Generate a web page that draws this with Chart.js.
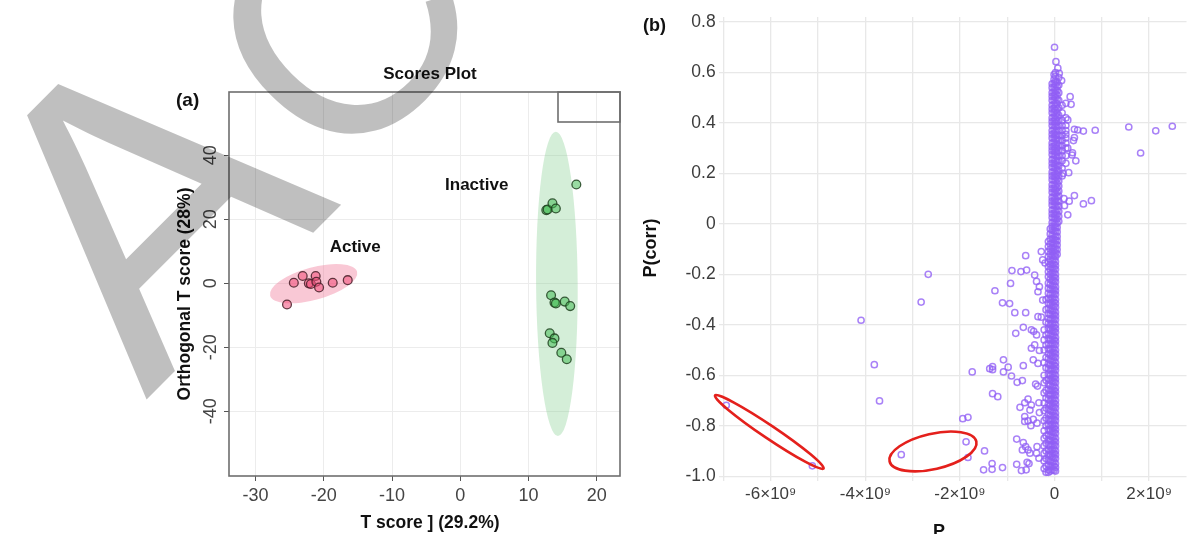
<!DOCTYPE html>
<html>
<head>
<meta charset="utf-8">
<script src="https://cdn.jsdelivr.net/npm/chart.js@4.4.1/dist/chart.umd.min.js"></script>
<style>
  html, body { margin: 0; padding: 0; background: #fff; }
  #wrap { position: relative; width: 1192px; height: 534px; overflow: hidden; }
  #scores { position: absolute; left: 0; top: 0; }
  #splot { position: absolute; left: 640px; top: 0; }
  #mark { position: absolute; left: 0; top: 0; pointer-events: none; }
</style>
</head>
<body>
<div id="wrap">
  <canvas id="scores" width="640" height="534"></canvas>
  <canvas id="splot" width="552" height="534"></canvas>
  <canvas id="mark" width="1192" height="534"></canvas>
</div>
<script>
// ---- (a) scores plot ----
const activeT = [-25.4, -24.4, -23.1, -22.2, -21.9, -21.2, -21.1, -20.7, -18.7, -16.5];
const activeO = [-6.6, 0.2, 2.3, 0.0, -0.2, 2.3, 0.5, -1.3, 0.2, 1.0];
const inactiveT = [17.0, 12.6, 12.8, 13.5, 14.0, 13.3, 13.8, 14.0, 15.3, 16.1, 13.1, 13.8, 13.5, 14.8, 15.6];
const inactiveO = [30.9, 22.9, 23.1, 25.0, 23.4, -3.7, -6.0, -6.3, -5.7, -7.1, -15.6, -17.2, -18.6, -21.7, -23.7];
const xTicksA = [-30, -20, -10, 0, 10, 20];
const yTicksA = [-40, -20, 0, 20, 40];
const groupNames = ['Active', 'Inactive'];
const groupLabelT = [-15.4, 2.4];
const groupLabelO = [11.3, 30.7];
const ellipseCenterT = [-21.5, 14.15];
const ellipseCenterO = [-0.1, -0.15];

// ---- (b) S-plot, P in units of 1e9 ----
const spineP = [0.02, -0.05, -0.13, -0.22, 0.09, 0.16, 0.24, -0.01, -0.09, 0.055, -0.18];
const spineCorr = [
  [0.60, 0.585, 0.565, 0.55, 0.53, 0.515, 0.5, 0.48, 0.465, 0.45, 0.43, 0.415, 0.4, 0.385, 0.365, 0.35, 0.335, 0.315, 0.3, 0.285,
   0.27, 0.25, 0.235, 0.22, 0.2, 0.185, 0.17, 0.15, 0.135, 0.12, 0.1, 0.085, 0.07, 0.05, 0.035, 0.02, 0.0, -0.015, -0.03, -0.05,
   -0.065, -0.08, -0.1, -0.115, -0.13, -0.15, -0.165, -0.18, -0.2, -0.215, -0.23, -0.25, -0.265, -0.28, -0.3, -0.315, -0.33, -0.35,
   -0.365, -0.38, -0.4, -0.415, -0.43, -0.45, -0.465, -0.48, -0.5, -0.515, -0.53, -0.55, -0.565, -0.58, -0.6, -0.615, -0.63, -0.65,
   -0.665, -0.68, -0.7, -0.715, -0.73, -0.75, -0.765, -0.78, -0.8, -0.815, -0.83, -0.85, -0.865, -0.88, -0.9, -0.915, -0.93, -0.95,
   -0.965, -0.98],
  [0.555, 0.54, 0.52, 0.505, 0.49, 0.47, 0.455, 0.44, 0.42, 0.405, 0.39, 0.37, 0.355, 0.34, 0.32, 0.305, 0.29, 0.275, 0.255, 0.24,
   0.225, 0.205, 0.19, 0.175, 0.155, 0.14, 0.125, 0.105, 0.09, 0.075, 0.055, 0.04, 0.025, 0.005, -0.01, -0.025, -0.045, -0.06, -0.075,
   -0.095, -0.11, -0.125, -0.145, -0.16, -0.175, -0.195, -0.21, -0.225, -0.245, -0.26, -0.275, -0.295, -0.31, -0.325, -0.345, -0.36,
   -0.375, -0.395, -0.41, -0.425, -0.445, -0.46, -0.475, -0.495, -0.51, -0.525, -0.545, -0.56, -0.575, -0.595, -0.61, -0.625, -0.645,
   -0.66, -0.675, -0.695, -0.71, -0.725, -0.745, -0.76, -0.775, -0.795, -0.81, -0.825, -0.845, -0.86, -0.875, -0.895, -0.91, -0.925,
   -0.945, -0.96, -0.975],
  [-0.07, -0.09, -0.11, -0.13, -0.15, -0.17, -0.19, -0.21, -0.235, -0.255, -0.275, -0.295, -0.315, -0.335, -0.355, -0.375, -0.395,
   -0.415, -0.435, -0.455, -0.475, -0.495, -0.515, -0.535, -0.555, -0.575, -0.595, -0.615, -0.635, -0.655, -0.675, -0.695, -0.715,
   -0.735, -0.755, -0.775, -0.795, -0.815, -0.835, -0.855, -0.875, -0.895, -0.915, -0.935, -0.955, -0.975, -0.985],
  [-0.42, -0.46, -0.5, -0.55, -0.6, -0.63, -0.67, -0.71, -0.74, -0.78, -0.82, -0.85, -0.88, -0.91, -0.94, -0.97],
  [0.58, 0.55, 0.52, 0.49, 0.46, 0.43, 0.41, 0.39, 0.37, 0.35, 0.33, 0.31, 0.29, 0.27, 0.25, 0.23, 0.21, 0.19, 0.17, 0.15, 0.13,
   0.11, 0.09, 0.07, 0.05, 0.03, 0.01],
  [0.47, 0.44, 0.41, 0.39, 0.37, 0.35, 0.33, 0.31, 0.29, 0.27, 0.25, 0.22, 0.19],
  [0.42, 0.39, 0.37, 0.355, 0.34, 0.32, 0.3, 0.27, 0.24],
  [0.592, 0.573, 0.557, 0.54, 0.522, 0.507, 0.49, 0.473, 0.457, 0.44, 0.423, 0.407, 0.39, 0.373, 0.357, 0.34, 0.323, 0.307, 0.29,
   0.273, 0.257, 0.24, 0.223, 0.207, 0.19, 0.173, 0.157, 0.14, 0.123, 0.107, 0.09, 0.073, 0.057, 0.04, 0.023, 0.007, -0.01, -0.027,
   -0.043, -0.06, -0.077, -0.093, -0.11, -0.127, -0.143, -0.16, -0.177, -0.193, -0.21, -0.227, -0.243, -0.26, -0.277, -0.293, -0.31,
   -0.327, -0.343, -0.36, -0.377, -0.393, -0.41, -0.427, -0.443, -0.46, -0.477, -0.493, -0.51, -0.527, -0.543, -0.56, -0.577, -0.593,
   -0.61, -0.627, -0.643, -0.66, -0.677, -0.693, -0.71, -0.727, -0.743, -0.76, -0.777, -0.793, -0.81, -0.827, -0.843, -0.86, -0.877,
   -0.893, -0.91, -0.927, -0.943, -0.96, -0.977],
  [-0.02, -0.04, -0.06, -0.08, -0.1, -0.12, -0.14, -0.16, -0.18, -0.2, -0.22, -0.24, -0.26, -0.28, -0.3, -0.32, -0.34, -0.36, -0.38,
   -0.4, -0.42, -0.44, -0.46, -0.48, -0.5, -0.52, -0.54, -0.56, -0.58, -0.6, -0.62, -0.64, -0.66, -0.68, -0.7, -0.72, -0.74, -0.76,
   -0.78, -0.8, -0.82, -0.84, -0.86, -0.88, -0.9, -0.92, -0.94, -0.96, -0.98],
  [0.562, 0.545, 0.528, 0.51, 0.493, 0.476, 0.458, 0.44, 0.423, 0.406, 0.388, 0.37, 0.353, 0.336, 0.318, 0.3, 0.283, 0.266, 0.248,
   0.23, 0.213, 0.196, 0.178, 0.16, 0.143, 0.126, 0.108, 0.09, 0.073, 0.056, 0.038, 0.02, 0.003, -0.014, -0.032, -0.05, -0.067, -0.084,
   -0.102, -0.12],
  [-0.3, -0.34, -0.39, -0.44, -0.48, -0.53, -0.57, -0.62, -0.66, -0.69, -0.73, -0.77, -0.8, -0.84, -0.87, -0.9, -0.93, -0.96, -0.985]
];
const outP = [0.0, 0.03, 0.07, 0.10, 0.15, 0.33, 0.35, 0.24, 0.42, 0.49, 0.61, 0.86, 1.57, 2.14, 2.49, 1.82, 0.42, 0.28, 0.38, 0.45,
  0.37, 0.30, 0.18, 0.42, 0.31, 0.21, 0.61, 0.78, 0.28, 0.28, 0.4, 0.2,
  -6.94, -5.12, -3.24, -4.09, -3.81, -3.70, -2.67, -2.82, -1.94, -1.83, -1.87, -1.83, -1.74, -1.48, -1.5, -1.32, -1.32, -1.1, -1.37,
  -1.31, -1.31, -1.08, -1.08, -1.31, -1.2, -1.26, -1.1, -0.95, -0.93, -0.9, -0.71, -0.59, -0.61, -0.84, -0.61, -0.66, -0.82, -0.49,
  -0.44, -0.38, -0.28, -0.25, -0.2, -0.42, -0.38, -0.32, -0.35, -0.25, -0.35, -0.28, -0.49, -0.42, -0.32, -0.45, -0.35, -0.98, -0.91,
  -0.79, -0.68, -0.66, -0.4, -0.36, -0.56, -0.63, -0.73, -0.33, -0.49, -0.52, -0.63, -0.56, -0.63, -0.45, -0.37, -0.32, -0.5, -0.8,
  -0.66, -0.61, -0.68, -0.56, -0.52, -0.37, -0.38, -0.33, -0.58, -0.54, -0.8, -0.7, -0.6];
const outCorr = [0.70, 0.643, 0.617, 0.597, 0.568, 0.504, 0.474, 0.478, 0.375, 0.372, 0.368, 0.371, 0.384, 0.369, 0.387, 0.281, 0.342,
  0.30, 0.282, 0.25, 0.273, 0.203, 0.2, 0.112, 0.09, 0.072, 0.079, 0.092, 0.036, 0.412, 0.33, 0.1,
  -0.719, -0.959, -0.915, -0.382, -0.558, -0.702, -0.2, -0.31, -0.772, -0.767, -0.864, -0.926, -0.587, -0.9, -0.975, -0.95, -0.973,
  -0.966, -0.574, -0.566, -0.578, -0.539, -0.587, -0.673, -0.685, -0.265, -0.313, -0.316, -0.236, -0.185, -0.189, -0.183, -0.126,
  -0.352, -0.352, -0.41, -0.434, -0.42, -0.426, -0.44, -0.11, -0.143, -0.155, -0.203, -0.228, -0.249, -0.269, -0.302, -0.368, -0.37,
  -0.493, -0.48, -0.502, -0.539, -0.553, -0.568, -0.603, -0.628, -0.621, -0.562, -0.635, -0.643, -0.695, -0.709, -0.727, -0.709,
  -0.718, -0.738, -0.764, -0.781, -0.783, -0.775, -0.79, -0.748, -0.8, -0.853, -0.867, -0.883, -0.896, -0.896, -0.909, -0.883, -0.909,
  -0.929, -0.945, -0.95, -0.953, -0.978, -0.975];
const xTicksB = [-6, -4, -2, 0, 2];
// hand-drawn red marks (centre in data units)
const markP = [-6.03, -2.57];
const markCorr = [-0.825, -0.902];

const FONT = '"Liberation Sans", Arial, Helvetica, sans-serif';

// ---------- chart (a) ----------
const ellStyle = [
  {rx: 45.1, ry: 16.2, rot: -15.4, fill: 'rgba(238,110,145,0.38)'},
  {rx: 152.2, ry: 20.8, rot: 89.6, fill: 'rgba(130,205,140,0.34)'}
];

const scoresDecor = {
  id: 'scoresDecor',
  beforeDatasetsDraw(chart) {
    const {ctx, scales: {x, y}} = chart;
    ellStyle.forEach((e, i) => {
      ctx.save();
      ctx.beginPath();
      ctx.ellipse(x.getPixelForValue(ellipseCenterT[i]), y.getPixelForValue(ellipseCenterO[i]),
        e.rx, e.ry, e.rot * Math.PI / 180, 0, Math.PI * 2);
      ctx.fillStyle = e.fill;
      ctx.fill();
      ctx.restore();
    });
  },
  afterDraw(chart) {
    const {ctx, chartArea: a, scales: {x, y}} = chart;
    ctx.save();
    // frame + empty legend box
    ctx.strokeStyle = '#6e6e6e';
    ctx.lineWidth = 1.6;
    ctx.strokeRect(a.left, a.top, a.right - a.left, a.bottom - a.top);
    ctx.strokeRect(558, a.top, a.right - 558, 30);
    // rotated y tick labels
    ctx.fillStyle = '#444';
    ctx.font = '18px ' + FONT;
    ctx.textAlign = 'center';
    ctx.textBaseline = 'middle';
    y.ticks.forEach(t => {
      ctx.save();
      ctx.translate(211, y.getPixelForValue(t.value));
      ctx.rotate(-Math.PI / 2);
      ctx.fillText(String(t.value), 0, 0);
      ctx.restore();
    });
    // texts
    ctx.fillStyle = '#111';
    ctx.font = 'bold 17px ' + FONT;
    ctx.fillText('Scores Plot', 430, 74);
    groupNames.forEach((n, i) => {
      ctx.fillText(n, x.getPixelForValue(groupLabelT[i]), y.getPixelForValue(groupLabelO[i]));
    });
    ctx.font = 'bold 17.5px ' + FONT;
    ctx.fillText('T score ] (29.2%)', 430, 523);
    ctx.save();
    ctx.translate(185, 294);
    ctx.rotate(-Math.PI / 2);
    ctx.fillText('Orthogonal T score (28%)', 0, 0);
    ctx.restore();
    ctx.font = 'bold 19px ' + FONT;
    ctx.textAlign = 'left';
    ctx.fillText('(a)', 176, 101);
    ctx.restore();
  }
};

new Chart(document.getElementById('scores'), {
  type: 'scatter',
  data: {
    datasets: [
      {
        data: activeT.map((t, i) => ({x: t, y: activeO[i]})),
        backgroundColor: 'rgba(240,75,120,0.55)',
        borderColor: 'rgba(70,30,40,0.85)',
        borderWidth: 1.3,
        pointRadius: 4.4
      },
      {
        data: inactiveT.map((t, i) => ({x: t, y: inactiveO[i]})),
        backgroundColor: 'rgba(70,190,85,0.55)',
        borderColor: 'rgba(30,65,30,0.85)',
        borderWidth: 1.3,
        pointRadius: 4.4
      }
    ]
  },
  options: {
    responsive: false,
    animation: false,
    layout: {padding: {left: 0, right: 20, top: 92, bottom: 0}},
    plugins: {legend: {display: false}, tooltip: {enabled: false}},
    scales: {
      x: {
        type: 'linear',
        min: -33.9, max: 23.4,
        afterFit(s) { s.height = 58; },
        afterBuildTicks(s) { s.ticks = xTicksA.map(v => ({value: v})); },
        border: {display: false},
        grid: {color: '#ececec', lineWidth: 1, tickColor: '#555', tickLength: 5},
        ticks: {color: '#444', padding: 4, font: {family: FONT, size: 18}, maxRotation: 0, autoSkip: false}
      },
      y: {
        type: 'linear',
        min: -60.2, max: 59.8,
        afterFit(s) { s.width = 229; },
        afterBuildTicks(s) { s.ticks = yTicksA.map(v => ({value: v})); },
        border: {display: false},
        grid: {color: '#ececec', lineWidth: 1, tickColor: '#555', tickLength: 5},
        ticks: {display: false}
      }
    }
  },
  plugins: [scoresDecor]
});

// ---------- chart (b) ----------
const markStyle = [
  {rx: 65.5, ry: 6.5, rot: 34},
  {rx: 44.5, ry: 17.7, rot: -12.9}
];

const splotDecor = {
  id: 'splotDecor',
  afterDraw(chart) {
    const {ctx, scales: {x, y}} = chart;
    ctx.save();
    ctx.strokeStyle = '#e4201c';
    ctx.lineWidth = 2.6;
    markStyle.forEach((e, i) => {
      ctx.beginPath();
      ctx.ellipse(x.getPixelForValue(markP[i]), y.getPixelForValue(markCorr[i]),
        e.rx, e.ry, e.rot * Math.PI / 180, 0, Math.PI * 2);
      ctx.stroke();
    });
    ctx.fillStyle = '#111';
    ctx.font = 'bold 18px ' + FONT;
    ctx.textAlign = 'left';
    ctx.textBaseline = 'middle';
    ctx.fillText('(b)', 3, 26);
    ctx.textAlign = 'center';
    ctx.textBaseline = 'alphabetic';
    ctx.fillText('P', 299, 537);
    ctx.textBaseline = 'middle';
    ctx.translate(11, 248);
    ctx.rotate(-Math.PI / 2);
    ctx.fillText('P(corr)', 0, 0);
    ctx.restore();
  }
};

const sPoints = [];
spineP.forEach((p, i) => spineCorr[i].forEach(c => sPoints.push({x: p, y: c})));
outP.forEach((p, i) => sPoints.push({x: p, y: outCorr[i]}));

new Chart(document.getElementById('splot'), {
  type: 'scatter',
  data: {
    datasets: [{
      data: sPoints,
      backgroundColor: 'rgba(255,255,255,0)',
      borderColor: 'rgba(145,95,245,0.78)',
      borderWidth: 1.5,
      pointRadius: 3.1
    }]
  },
  options: {
    responsive: false,
    animation: false,
    layout: {padding: {left: 0, right: 0, top: 17, bottom: 0}},
    plugins: {legend: {display: false}, tooltip: {enabled: false}},
    scales: {
      x: {
        type: 'linear',
        min: -7.1, max: 2.79,
        afterFit(s) { s.height = 52.8; },
        border: {display: false},
        grid: {color: '#e8e8e8', lineWidth: 1.3, drawTicks: false},
        ticks: {
          stepSize: 1, includeBounds: false, color: '#3c3c3c', padding: 3, maxRotation: 0, autoSkip: false,
          font: {family: FONT, size: 17},
          callback: v => xTicksB.includes(v) ? (v === 0 ? '0' : v + '×10⁹') : ''
        }
      },
      y: {
        type: 'linear',
        min: -1.02, max: 0.82,
        afterFit(s) { s.width = 78.7; },
        border: {display: false},
        grid: {color: '#e8e8e8', lineWidth: 1.3, drawTicks: false},
        ticks: {
          stepSize: 0.2, includeBounds: false, color: '#3c3c3c', padding: 3,
          font: {family: FONT, size: 17.5},
          callback: v => Math.abs(v) < 1e-9 ? '0' : v.toFixed(1)
        }
      }
    }
  },
  plugins: [splotDecor]
});

// ---------- watermark ----------
const m = document.getElementById('mark').getContext('2d');
m.fillStyle = 'rgba(0,0,0,0.25)';
m.save();
m.translate(146, 400);
m.rotate(-Math.PI / 4);
m.font = '415px ' + FONT;
m.fillText('A', 0, 0);
m.restore();
m.save();
m.translate(337, 184);
m.rotate(-Math.PI / 4);
m.font = '315px ' + FONT;
m.fillText('CCEPTED MANUSCRIPT', 0, 0);
m.restore();
</script>
</body>
</html>
